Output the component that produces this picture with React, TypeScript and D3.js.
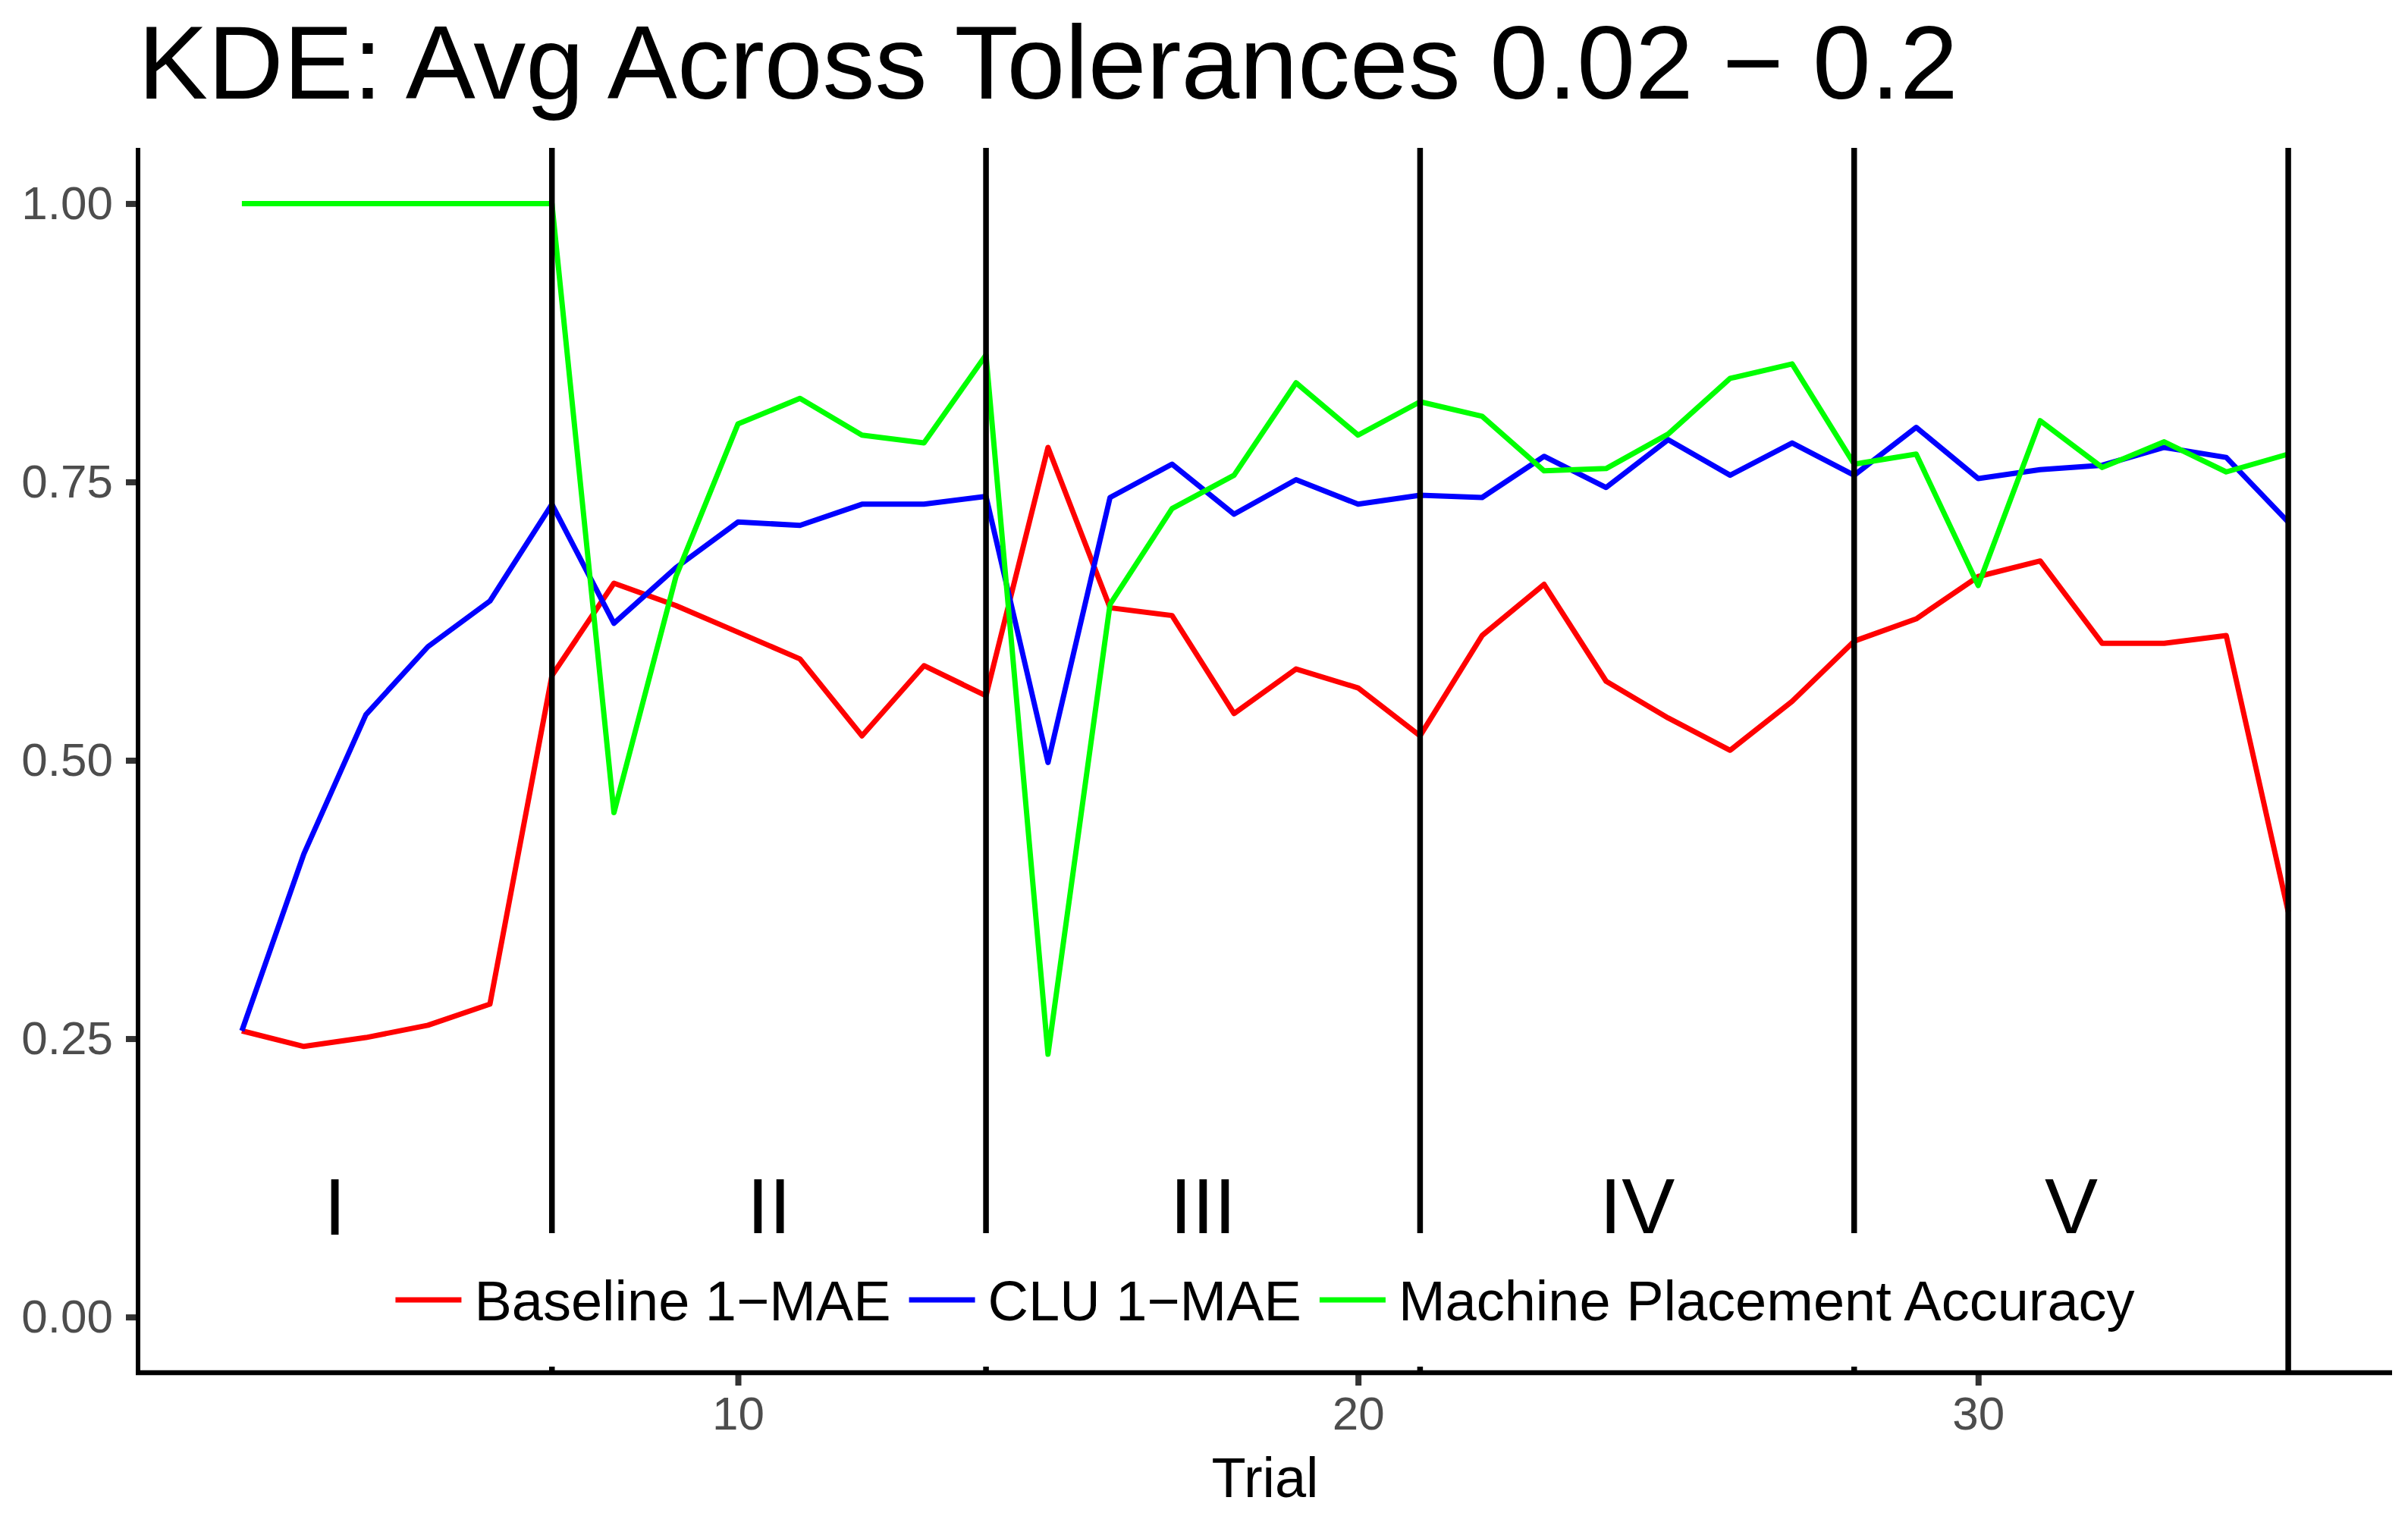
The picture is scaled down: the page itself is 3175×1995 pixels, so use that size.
import * as d3 from "d3";
import { useRef, useEffect } from "react";

// values, one per trial
const trials = [2, 3, 4, 5, 6, 7, 8, 9, 10, 11, 12, 13, 14, 15, 16, 17, 18, 19, 20, 21, 22, 23, 24, 25, 26, 27, 28, 29, 30, 31, 32, 33, 34, 35];
const baseline = [0.257, 0.243, 0.251, 0.262, 0.281, 0.576, 0.659, 0.639, 0.615, 0.591, 0.522, 0.585, 0.558, 0.781, 0.637, 0.630, 0.542, 0.582, 0.565, 0.522, 0.612, 0.658, 0.571, 0.538, 0.509, 0.553, 0.607, 0.627, 0.665, 0.679, 0.605, 0.605, 0.612, 0.364];
const clu = [0.257, 0.416, 0.541, 0.602, 0.643, 0.730, 0.623, 0.673, 0.714, 0.711, 0.730, 0.730, 0.737, 0.498, 0.736, 0.766, 0.721, 0.752, 0.730, 0.738, 0.736, 0.773, 0.745, 0.788, 0.756, 0.785, 0.756, 0.799, 0.753, 0.761, 0.765, 0.781, 0.772, 0.714];
const placement = [1.0, 1.0, 1.0, 1.0, 1.0, 1.0, 0.453, 0.665, 0.802, 0.825, 0.792, 0.785, 0.864, 0.236, 0.640, 0.726, 0.756, 0.839, 0.792, 0.822, 0.809, 0.760, 0.762, 0.793, 0.843, 0.856, 0.766, 0.775, 0.657, 0.805, 0.763, 0.786, 0.759, 0.775];

const seriesNames = ["Baseline 1\u2212MAE", "CLU 1\u2212MAE", "Machine Placement Accuracy"];
const seriesColors = ["#FF0000", "#0000FF", "#00FF00"];

// phase boundaries and labels
const boundaries = [7, 14, 21, 28, 35];
const phaseLabels = ["I", "II", "III", "IV", "V"];
const phaseCenters = [3.5, 10.5, 17.5, 24.5, 31.5];
const phaseLabelY = 0.1;

const yTicks = [0, 0.25, 0.5, 0.75, 1];
const xTicks = [10, 20, 30];

const title = "KDE: Avg Across Tolerances 0.02 \u2212 0.2";
const xTitle = "Trial";

const FONT = "'Liberation Sans', Arial, Helvetica, sans-serif";

export default function App() {
  const ref = useRef<SVGSVGElement | null>(null);

  useEffect(() => {
    if (!ref.current) return;
    const svg = d3.select(ref.current);
    svg.selectAll("*").remove();

    const width = 3175;
    const height = 1995;
    const left = 182, right = 3154, top = 195, bottom = 1810;

    const x = d3.scaleLinear([0.35, 36.65], [left + 2, right - 2]);
    const y = d3.scaleLinear([-0.05, 1.05], [bottom, top]);

    svg.append("rect").attr("width", width).attr("height", height).attr("fill", "#fff");

    // series lines
    const line = d3.line<number>()
      .x((_, i) => x(trials[i]))
      .y((d) => y(d));
    [baseline, clu, placement].forEach((vals, k) => {
      svg.append("path")
        .attr("d", line(vals))
        .attr("fill", "none")
        .attr("stroke", seriesColors[k])
        .attr("stroke-width", 7)
        .attr("stroke-linejoin", "round");
    });

    // phase separators
    svg.append("g")
      .selectAll("line")
      .data(boundaries)
      .join("line")
      .attr("x1", (d) => x(d))
      .attr("x2", (d) => x(d))
      .attr("y1", top)
      .attr("y2", bottom)
      .attr("stroke", "#000")
      .attr("stroke-width", 7.5);

    // phase labels
    svg.append("g")
      .selectAll("text")
      .data(phaseLabels)
      .join("text")
      .attr("x", (_, i) => x(phaseCenters[i]))
      .attr("y", y(phaseLabelY))
      .attr("dy", "0.36em")
      .attr("text-anchor", "middle")
      .attr("font-family", FONT)
      .attr("font-size", 105)
      .attr("fill", "#000")
      .text((d) => d);

    // y axis
    const gy = svg.append("g").attr("transform", `translate(${left},0)`);
    gy.call(
      d3.axisLeft(y)
        .tickValues(yTicks)
        .tickFormat(d3.format(".2f"))
        .tickSize(16)
        .tickPadding(17)
    );
    gy.select(".domain").remove();
    gy.selectAll(".tick line").attr("stroke", "#333333").attr("stroke-width", 8);
    gy.selectAll(".tick text")
      .attr("font-family", FONT)
      .attr("font-size", 62)
      .attr("fill", "#4D4D4D");

    // x axis
    const gx = svg.append("g").attr("transform", `translate(0,${bottom})`);
    gx.call(
      d3.axisBottom(x)
        .tickValues(xTicks)
        .tickFormat(d3.format("d"))
        .tickSize(17)
        .tickPadding(14)
    );
    gx.select(".domain").remove();
    gx.selectAll(".tick line").attr("stroke", "#333333").attr("stroke-width", 8);
    gx.selectAll(".tick text")
      .attr("font-family", FONT)
      .attr("font-size", 62)
      .attr("fill", "#4D4D4D");

    // axis lines
    svg.append("line")
      .attr("x1", left).attr("x2", left)
      .attr("y1", top).attr("y2", bottom + 3)
      .attr("stroke", "#000").attr("stroke-width", 6);
    svg.append("line")
      .attr("x1", left - 3).attr("x2", right)
      .attr("y1", bottom).attr("y2", bottom)
      .attr("stroke", "#000").attr("stroke-width", 6.5);

    // legend
    const keyLen = 87, keyGap = 17, itemGap = 24, legendY = 1714;
    const lg = svg.append("g");
    const bg = lg.append("rect").attr("fill", "#fff");
    const items = lg.selectAll("g")
      .data(seriesNames)
      .join("g");
    items.append("line")
      .attr("x1", 0).attr("x2", keyLen)
      .attr("y1", 0).attr("y2", 0)
      .attr("stroke", (_, i) => seriesColors[i])
      .attr("stroke-width", 7);
    items.append("text")
      .attr("x", keyLen + keyGap)
      .attr("dy", "0.36em")
      .attr("font-family", FONT)
      .attr("font-size", 74)
      .attr("fill", "#000")
      .text((d) => d);
    let cursor = 0;
    const offsets: number[] = [];
    items.each(function () {
      const t = d3.select(this).select("text").node() as SVGTextElement;
      offsets.push(cursor);
      cursor += keyLen + keyGap + t.getComputedTextLength() + itemGap;
    });
    const total = cursor - itemGap;
    const startX = (left + right) / 2 - total / 2;
    items.attr("transform", (_, i) => `translate(${startX + offsets[i]},${legendY})`);
    bg.attr("x", startX - 30)
      .attr("y", 1626)
      .attr("width", total + 60)
      .attr("height", 176);

    // titles
    svg.append("text")
      .attr("x", left)
      .attr("y", 130)
      .attr("font-family", FONT)
      .attr("font-size", 138)
      .attr("fill", "#000")
      .text(title);
    svg.append("text")
      .attr("x", (left + right) / 2)
      .attr("y", 1974)
      .attr("text-anchor", "middle")
      .attr("font-family", FONT)
      .attr("font-size", 74)
      .attr("fill", "#000")
      .text(xTitle);
  }, []);

  return (
    <svg
      ref={ref}
      width={3175}
      height={1995}
      style={{ position: "absolute", left: 0, top: 0, display: "block" }}
    />
  );
}
